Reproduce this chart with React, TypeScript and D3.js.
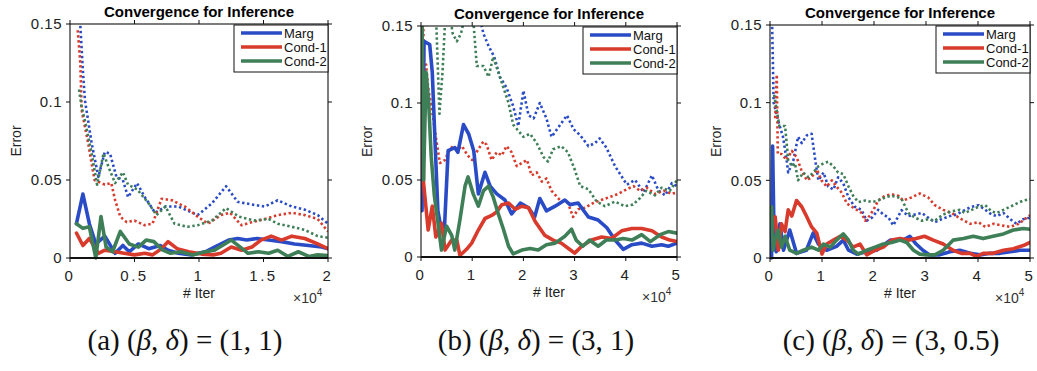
import React from "react";
import * as d3 from "d3";

type Pt = [number, number];

// ---- shared labels / ticks ----
const seriesNames = ["Marg", "Cond-1", "Cond-2"];
const seriesColors = ["#2a4bc6", "#d83a2c", "#3f7f58"];
const yTickValues = [0, 0.05, 0.1, 0.15];
const yTickLabels = ["0", "0.05", "0.1", "0.15"];
const xTicksA = [0, 0.5, 1, 1.5, 2];
const xTickLabelsA = ["0", "0.5", "1", "1.5", "2"];
const xTicksBC = [0, 1, 2, 3, 4, 5];
const xTickLabelsBC = ["0", "1", "2", "3", "4", "5"];
const chartTitle = "Convergence for Inference";
const xAxisLabel = "# Iter";
const yAxisLabel = "Error";
const captionTags = ["(a)", "(b)", "(c)"];
const captionValues = ["(1, 1)", "(3, 1)", "(3, 0.5)"];

// ---- panel (a): beta = 1, delta = 1  (x in units of 1e4 iterations) ----
const aMargDotted: Pt[] = [[0.078,0.152],[0.1,0.12],[0.116,0.101],[0.168,0.0735],[0.22,0.052],[0.27,0.068],[0.31,0.067],[0.36,0.052],[0.41,0.05],[0.45,0.039],[0.52,0.048],[0.58,0.039],[0.66,0.029],[0.74,0.033],[0.84,0.033],[0.99,0.0275],[1.1,0.035],[1.21,0.046],[1.3,0.036],[1.43,0.034],[1.51,0.033],[1.61,0.037],[1.72,0.033],[1.82,0.031],[1.92,0.0275],[2.0,0.022]];
const aCond1Dotted: Pt[] = [[0.06,0.146],[0.08,0.125],[0.09,0.095],[0.14,0.074],[0.19,0.05],[0.27,0.047],[0.32,0.048],[0.35,0.037],[0.39,0.0265],[0.44,0.023],[0.5,0.024],[0.58,0.021],[0.64,0.022],[0.71,0.038],[0.79,0.037],[0.89,0.033],[0.99,0.0265],[1.07,0.022],[1.17,0.0275],[1.24,0.029],[1.33,0.021],[1.41,0.023],[1.51,0.025],[1.61,0.0275],[1.72,0.029],[1.82,0.0275],[1.92,0.025],[2.0,0.017]];
const aCond2Dotted: Pt[] = [[0.07,0.108],[0.09,0.097],[0.116,0.088],[0.168,0.067],[0.21,0.047],[0.26,0.067],[0.3,0.058],[0.35,0.048],[0.41,0.055],[0.45,0.047],[0.52,0.044],[0.61,0.035],[0.67,0.0275],[0.74,0.033],[0.81,0.022],[0.91,0.02],[0.99,0.021],[1.1,0.024],[1.21,0.032],[1.31,0.0265],[1.43,0.024],[1.54,0.025],[1.61,0.022],[1.72,0.02],[1.82,0.018],[1.92,0.014],[2.0,0.013]];
const aMargSolid: Pt[] = [[0.05,0.022],[0.1,0.041],[0.15,0.022],[0.2,0.009],[0.27,0.014],[0.35,0.003],[0.41,0.008],[0.46,0.004],[0.53,0.009],[0.61,0.006],[0.7,0.008],[0.76,0.005],[0.84,0.003],[0.94,0.002],[1.05,0.004],[1.12,0.007],[1.23,0.0115],[1.3,0.0125],[1.37,0.0115],[1.45,0.0125],[1.54,0.0115],[1.64,0.0105],[1.74,0.009],[1.85,0.008],[1.95,0.007],[2.0,0.006]];
const aCond1Solid: Pt[] = [[0.05,0.016],[0.1,0.008],[0.15,0.0125],[0.22,0.003],[0.27,0.005],[0.35,0.004],[0.42,0.003],[0.5,0.002],[0.58,0.003],[0.64,0.002],[0.71,0.006],[0.76,0.0105],[0.83,0.006],[0.92,0.004],[1.02,0.0025],[1.11,0.002],[1.17,0.003],[1.25,0.007],[1.33,0.005],[1.41,0.007],[1.48,0.0115],[1.56,0.014],[1.64,0.0115],[1.72,0.014],[1.82,0.0125],[1.92,0.009],[2.0,0.006]];
const aCond2Solid: Pt[] = [[0.05,0.022],[0.1,0.019],[0.15,0.02],[0.2,0.0],[0.24,0.0265],[0.28,0.007],[0.33,0.004],[0.39,0.017],[0.46,0.009],[0.53,0.007],[0.59,0.0115],[0.65,0.0105],[0.72,0.005],[0.78,0.003],[0.86,0.004],[0.95,0.002],[1.05,0.004],[1.12,0.005],[1.2,0.009],[1.25,0.0115],[1.32,0.007],[1.38,0.003],[1.46,0.004],[1.54,0.003],[1.61,0.005],[1.69,0.001],[1.77,0.004],[1.85,0.001],[1.92,0.002],[2.0,0.0015]];

// ---- panel (b): beta = 3, delta = 1 ----
const bMargDotted: Pt[] = [[0.02,0.25],[0.5,0.22],[1.0,0.18],[1.15,0.155],[1.22,0.145],[1.32,0.137],[1.43,0.13],[1.54,0.117],[1.67,0.11],[1.8,0.098],[1.9,0.085],[2.0,0.108],[2.1,0.092],[2.2,0.09],[2.32,0.1],[2.45,0.09],[2.55,0.078],[2.68,0.084],[2.85,0.092],[2.98,0.083],[3.11,0.079],[3.27,0.072],[3.4,0.074],[3.49,0.077],[3.62,0.071],[3.79,0.059],[4.02,0.047],[4.18,0.05],[4.35,0.042],[4.51,0.053],[4.64,0.043],[4.77,0.04],[4.9,0.048],[5.0,0.046]];
const bCond1Dotted: Pt[] = [[0.02,0.2],[0.06,0.12],[0.1,0.125],[0.14,0.11],[0.24,0.09],[0.28,0.08],[0.37,0.061],[0.47,0.063],[0.53,0.068],[0.62,0.072],[0.72,0.07],[0.8,0.072],[0.91,0.066],[1.0,0.063],[1.12,0.07],[1.22,0.075],[1.28,0.073],[1.38,0.063],[1.48,0.068],[1.58,0.066],[1.67,0.072],[1.77,0.068],[1.87,0.059],[1.97,0.061],[2.07,0.063],[2.16,0.053],[2.26,0.055],[2.36,0.049],[2.45,0.051],[2.55,0.043],[2.71,0.037],[2.87,0.035],[2.97,0.026],[3.07,0.031],[3.2,0.032],[3.36,0.035],[3.52,0.037],[3.69,0.039],[3.85,0.041],[4.02,0.044],[4.15,0.046],[4.28,0.043],[4.41,0.045],[4.57,0.041],[4.74,0.043],[4.9,0.041],[5.0,0.042]];
const bCond2Dotted: Pt[] = [[0.02,0.2],[0.25,0.17],[0.3,0.15],[0.36,0.093],[0.42,0.12],[0.48,0.16],[0.55,0.16],[0.62,0.145],[0.7,0.14],[0.78,0.145],[0.85,0.155],[0.95,0.16],[1.03,0.15],[1.09,0.124],[1.22,0.124],[1.32,0.117],[1.41,0.13],[1.51,0.12],[1.61,0.11],[1.71,0.1],[1.8,0.086],[1.9,0.082],[2.0,0.078],[2.13,0.08],[2.26,0.074],[2.39,0.065],[2.48,0.062],[2.58,0.07],[2.74,0.072],[2.87,0.068],[3.0,0.057],[3.11,0.046],[3.27,0.044],[3.43,0.036],[3.59,0.033],[3.79,0.036],[3.98,0.033],[4.14,0.034],[4.27,0.038],[4.4,0.043],[4.57,0.04],[4.7,0.045],[4.86,0.043],[5.0,0.05]];
const bMargSolid: Pt[] = [[0.0,0.15],[0.02,0.03],[0.06,0.14],[0.17,0.138],[0.22,0.12],[0.28,0.07],[0.33,0.03],[0.4,0.017],[0.46,0.02],[0.53,0.069],[0.66,0.071],[0.72,0.068],[0.83,0.086],[0.93,0.08],[1.03,0.069],[1.12,0.041],[1.25,0.055],[1.35,0.046],[1.48,0.041],[1.64,0.037],[1.77,0.028],[1.94,0.035],[2.1,0.032],[2.22,0.026],[2.32,0.038],[2.45,0.03],[2.62,0.033],[2.81,0.037],[2.91,0.034],[3.07,0.035],[3.27,0.026],[3.46,0.024],[3.63,0.019],[3.79,0.011],[3.95,0.005],[4.12,0.008],[4.31,0.009],[4.51,0.007],[4.7,0.008],[4.83,0.007],[5.0,0.009]];
const bCond1Solid: Pt[] = [[0.02,0.15],[0.05,0.048],[0.14,0.0175],[0.22,0.033],[0.29,0.013],[0.4,0.022],[0.47,0.0045],[0.6,0.011],[0.7,0.011],[0.76,0.001],[0.89,0.005],[0.99,0.009],[1.12,0.0175],[1.25,0.025],[1.38,0.027],[1.47,0.029],[1.58,0.034],[1.71,0.035],[1.84,0.031],[1.97,0.033],[2.1,0.032],[2.23,0.023],[2.42,0.014],[2.58,0.011],[2.74,0.009],[2.9,0.005],[3.0,0.0025],[3.14,0.007],[3.33,0.011],[3.53,0.013],[3.72,0.012],[3.92,0.017],[4.12,0.0185],[4.31,0.0185],[4.51,0.017],[4.7,0.013],[4.86,0.011],[5.0,0.01]];
const bCond2Solid: Pt[] = [[0.02,0.15],[0.05,0.05],[0.1,0.12],[0.15,0.1],[0.2,0.065],[0.26,0.04],[0.34,0.02],[0.4,0.0045],[0.5,0.02],[0.6,0.014],[0.66,0.0045],[0.76,0.024],[0.86,0.046],[0.92,0.052],[1.02,0.041],[1.12,0.033],[1.22,0.043],[1.32,0.046],[1.41,0.039],[1.51,0.028],[1.61,0.018],[1.71,0.007],[1.8,0.002],[1.97,0.0045],[2.13,0.0055],[2.29,0.0045],[2.45,0.008],[2.62,0.009],[2.81,0.0135],[2.94,0.018],[3.03,0.011],[3.16,0.007],[3.29,0.011],[3.46,0.007],[3.62,0.011],[3.79,0.011],[3.95,0.012],[4.12,0.011],[4.31,0.0145],[4.48,0.01],[4.67,0.0145],[4.83,0.0165],[5.0,0.0155]];

// ---- panel (c): beta = 3, delta = 0.5 ----
const cMargDotted: Pt[] = [[0.04,0.152],[0.07,0.1],[0.16,0.088],[0.25,0.078],[0.32,0.063],[0.35,0.055],[0.45,0.063],[0.54,0.078],[0.61,0.074],[0.71,0.079],[0.8,0.08],[0.87,0.063],[0.93,0.05],[1.03,0.055],[1.12,0.046],[1.22,0.044],[1.31,0.052],[1.41,0.048],[1.51,0.039],[1.63,0.033],[1.76,0.031],[1.86,0.024],[1.96,0.026],[2.08,0.031],[2.18,0.028],[2.28,0.026],[2.37,0.021],[2.47,0.027],[2.53,0.0308],[2.66,0.027],[2.79,0.028],[2.92,0.029],[3.04,0.026],[3.17,0.023],[3.3,0.025],[3.46,0.027],[3.59,0.028],[3.75,0.031],[3.88,0.033],[4.01,0.034],[4.14,0.031],[4.26,0.028],[4.36,0.027],[4.49,0.029],[4.62,0.025],[4.74,0.022],[4.87,0.025],[5.0,0.026]];
const cCond1Dotted: Pt[] = [[0.1,0.09],[0.13,0.118],[0.15,0.067],[0.22,0.067],[0.32,0.063],[0.42,0.069],[0.51,0.065],[0.61,0.056],[0.71,0.05],[0.8,0.052],[0.9,0.057],[0.99,0.05],[1.09,0.046],[1.19,0.05],[1.28,0.046],[1.38,0.042],[1.48,0.035],[1.57,0.033],[1.67,0.031],[1.76,0.029],[1.83,0.024],[1.89,0.026],[1.99,0.031],[2.08,0.037],[2.21,0.04],[2.34,0.041],[2.47,0.04],[2.56,0.037],[2.72,0.039],[2.88,0.0415],[3.04,0.039],[3.17,0.034],[3.33,0.031],[3.49,0.029],[3.68,0.025],[3.85,0.022],[4.01,0.023],[4.14,0.02],[4.3,0.022],[4.46,0.021],[4.62,0.02],[4.78,0.022],[4.9,0.025],[5.0,0.0275]];
const cCond2Dotted: Pt[] = [[0.08,0.105],[0.18,0.085],[0.29,0.085],[0.35,0.063],[0.42,0.059],[0.48,0.061],[0.54,0.05],[0.64,0.055],[0.74,0.052],[0.83,0.055],[0.93,0.059],[1.03,0.061],[1.12,0.062],[1.22,0.059],[1.31,0.055],[1.41,0.054],[1.51,0.046],[1.6,0.04],[1.7,0.036],[1.83,0.037],[1.96,0.036],[2.08,0.037],[2.21,0.039],[2.34,0.04],[2.47,0.039],[2.53,0.038],[2.66,0.029],[2.79,0.026],[2.92,0.024],[3.04,0.025],[3.17,0.024],[3.33,0.028],[3.49,0.03],[3.65,0.031],[3.75,0.029],[3.88,0.031],[4.01,0.033],[4.14,0.034],[4.26,0.03],[4.36,0.029],[4.49,0.031],[4.62,0.033],[4.74,0.035],[4.87,0.037],[5.0,0.038]];
const cMargSolid: Pt[] = [[0.03,0.0],[0.05,0.072],[0.08,0.01],[0.12,0.004],[0.19,0.022],[0.26,0.005],[0.38,0.018],[0.51,0.003],[0.7,0.005],[0.83,0.016],[0.93,0.009],[1.09,0.005],[1.28,0.0075],[1.41,0.0115],[1.51,0.005],[1.67,0.0025],[1.86,0.004],[2.05,0.005],[2.31,0.0115],[2.56,0.0115],[2.69,0.014],[2.81,0.009],[2.94,0.005],[3.07,0.002],[3.26,0.002],[3.46,0.004],[3.65,0.005],[3.85,0.003],[4.04,0.002],[4.23,0.003],[4.42,0.003],[4.62,0.004],[4.81,0.005],[5.0,0.005]];
const cCond1Solid: Pt[] = [[0.06,0.025],[0.1,0.0265],[0.16,0.005],[0.22,0.022],[0.29,0.017],[0.35,0.031],[0.42,0.027],[0.51,0.037],[0.61,0.033],[0.7,0.027],[0.8,0.02],[0.9,0.016],[1.0,0.0025],[1.09,0.009],[1.22,0.0115],[1.35,0.014],[1.48,0.0115],[1.6,0.007],[1.73,0.009],[1.86,0.002],[2.02,0.005],[2.18,0.007],[2.34,0.0115],[2.5,0.0125],[2.66,0.0115],[2.81,0.0125],[2.97,0.014],[3.14,0.0115],[3.33,0.009],[3.52,0.005],[3.68,0.003],[3.85,0.003],[3.97,0.001],[4.1,0.003],[4.29,0.003],[4.49,0.005],[4.68,0.006],[4.87,0.008],[5.0,0.01]];
const cCond2Solid: Pt[] = [[0.03,0.033],[0.06,0.005],[0.1,0.0115],[0.16,0.018],[0.22,0.007],[0.29,0.014],[0.38,0.005],[0.51,0.003],[0.64,0.005],[0.8,0.007],[0.93,0.005],[1.03,0.009],[1.16,0.007],[1.28,0.0115],[1.41,0.0155],[1.51,0.0115],[1.6,0.005],[1.7,0.0025],[1.86,0.005],[2.02,0.007],[2.18,0.009],[2.34,0.01],[2.5,0.0115],[2.63,0.01],[2.76,0.005],[2.88,0.0025],[3.01,0.002],[3.17,0.002],[3.33,0.005],[3.52,0.0115],[3.72,0.0125],[3.91,0.014],[4.1,0.0125],[4.29,0.014],[4.49,0.0155],[4.68,0.018],[4.87,0.019],[5.0,0.0185]];

// ---- panel layout (pixel frame of each axes box) ----
const panels = [
  { key: "a", left: 70, right: 328, top: 24, bottom: 258, xMax: 2, xTicks: xTicksA, xLabels: xTickLabelsA,
    dotted: [aMargDotted, aCond1Dotted, aCond2Dotted], solid: [aMargSolid, aCond1Solid, aCond2Solid], capX: 185 },
  { key: "b", left: 421, right: 677, top: 26, bottom: 257, xMax: 5, xTicks: xTicksBC, xLabels: xTickLabelsBC,
    dotted: [bMargDotted, bCond1Dotted, bCond2Dotted], solid: [bMargSolid, bCond1Solid, bCond2Solid], capX: 536 },
  { key: "c", left: 770, right: 1030, top: 25, bottom: 258, xMax: 5, xTicks: xTicksBC, xLabels: xTickLabelsBC,
    dotted: [cMargDotted, cCond1Dotted, cCond2Dotted], solid: [cMargSolid, cCond1Solid, cCond2Solid], capX: 891 },
];

const SANS = "'Liberation Sans', Arial, Helvetica, sans-serif";
const SERIF = "'Liberation Serif', 'Times New Roman', serif";

function Panel({ p, idx }: { p: (typeof panels)[number]; idx: number }) {
  const x = d3.scaleLinear().domain([0, p.xMax]).range([p.left, p.right]);
  const y = d3.scaleLinear().domain([0, 0.15]).range([p.bottom, p.top]);
  const line = d3.line<Pt>().x((d) => x(d[0])).y((d) => y(d[1]));
  const clipId = `clip-${p.key}`;
  const midY = (p.top + p.bottom) / 2;
  const midX = (p.left + p.right) / 2;
  const tick = 4;
  const legW = 94;
  const legX = p.right - legW;
  const legY = p.top + 1;
  return (
    <g>
      <defs>
        <clipPath id={clipId}>
          <rect x={p.left} y={p.top} width={p.right - p.left} height={p.bottom - p.top + 2} />
        </clipPath>
      </defs>
      <text x={midX} y={p.top - 7} textAnchor="middle" fontFamily={SANS} fontWeight="bold" fontSize={15}>
        {chartTitle}
      </text>
      <g clipPath={`url(#${clipId})`}>
        {p.dotted.map((s, i) => (
          <path key={`d${i}`} d={line(s) || ""} fill="none" stroke={seriesColors[i]} strokeWidth={2.6}
            strokeDasharray="2.4 2.6" strokeLinejoin="round" />
        ))}
        {p.solid.map((s, i) => (
          <path key={`s${i}`} d={line(s) || ""} fill="none" stroke={seriesColors[i]} strokeWidth={3.6}
            strokeLinejoin="round" strokeLinecap="round" />
        ))}
      </g>
      {/* axes box */}
      <rect x={p.left} y={p.top} width={p.right - p.left} height={p.bottom - p.top} fill="none" stroke="#111" strokeWidth={1.1} />
      <line x1={p.left} x2={p.right} y1={p.bottom} y2={p.bottom} stroke="#111" strokeWidth={1.8} />
      {p.xTicks.map((t, i) => (
        <g key={`xt${i}`}>
          <line x1={x(t)} x2={x(t)} y1={p.bottom} y2={p.bottom + tick} stroke="#111" />
          <line x1={x(t)} x2={x(t)} y1={p.top} y2={p.top - tick} stroke="#111" />
          <text x={x(t)} y={p.bottom + 23} textAnchor="middle" fontFamily={SANS} fontSize={15} fill="#222" letterSpacing={2.5}>
            {p.xLabels[i]}
          </text>
        </g>
      ))}
      {yTickValues.map((t, i) => (
        <g key={`yt${i}`}>
          <line x1={p.left - tick} x2={p.left} y1={y(t)} y2={y(t)} stroke="#111" />
          <line x1={p.right} x2={p.right + tick} y1={y(t)} y2={y(t)} stroke="#111" />
          <text x={p.left - 8} y={y(t)} dy="0.36em" textAnchor="end" fontFamily={SANS} fontSize={15} fill="#222" letterSpacing={0.5}>
            {yTickLabels[i]}
          </text>
        </g>
      ))}
      <text x={midX} y={p.bottom + 40} textAnchor="middle" fontFamily={SANS} fontSize={14} fill="#222">
        {xAxisLabel}
      </text>
      <text x={p.right - 35} y={p.bottom + 45} fontFamily={SANS} fontSize={14} fill="#333">
        ×10
        <tspan dy={-7} fontSize={10}>4</tspan>
      </text>
      <text transform={`translate(${p.left - 49},${midY}) rotate(-90)`} textAnchor="middle" fontFamily={SANS} fontSize={14} fill="#222">
        {yAxisLabel}
      </text>
      {/* legend */}
      <rect x={legX} y={legY} width={legW} height={47} fill="#fff" stroke="#111" strokeWidth={1} />
      {seriesNames.map((n, i) => {
        const ry = legY + 8 + i * 14;
        return (
          <g key={n}>
            <line x1={legX + 7} x2={legX + 48} y1={ry} y2={ry} stroke={seriesColors[i]} strokeWidth={3.4} />
            <text x={legX + 50} y={ry} dy="0.36em" fontFamily={SANS} fontSize={13} fill="#111">
              {n}
            </text>
          </g>
        );
      })}
      {/* caption */}
      <text x={p.capX} y={350} textAnchor="middle" fontFamily={SERIF} fontSize={29} fill="#111">
        {captionTags[idx]} (<tspan fontStyle="italic">β</tspan>, <tspan fontStyle="italic">δ</tspan>) = {captionValues[idx]}
      </text>
    </g>
  );
}

export default function App() {
  return (
    <div style={{ position: "absolute", left: 0, top: 0 }}>
      <svg width={1037} height={371} viewBox="0 0 1037 371" style={{ display: "block", background: "#fff" }}>
        <rect width={1037} height={371} fill="#fff" />
        {panels.map((p, i) => (
          <Panel key={p.key} p={p} idx={i} />
        ))}
      </svg>
    </div>
  );
}
